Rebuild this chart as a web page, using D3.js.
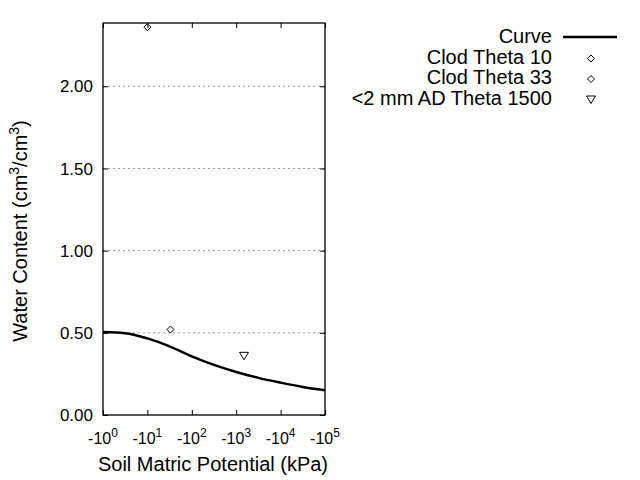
<!DOCTYPE html>
<html><head><meta charset="utf-8">
<script src="https://cdn.jsdelivr.net/npm/d3@7"></script>
<style>body{margin:0;background:#fff}svg{display:block}text{font-family:"Liberation Sans",Arial,sans-serif;fill:#000}</style>
</head><body><svg id="c" width="640" height="480"></svg>
<script>
const curvePotential = [1, 3.16, 10, 31.6, 100, 316, 1000, 3162, 10000, 31623, 100000];
const curveTheta     = [0.505, 0.498, 0.466, 0.418, 0.357, 0.305, 0.262, 0.226, 0.197, 0.171, 0.151];
const pointSeries = ["Clod Theta 10", "Clod Theta 33", "<2 mm AD Theta 1500"];
const pointPotential = [10, 33, 1500];
const pointTheta = [2.36, 0.52, 0.36];
const pointShape = ["diamond", "diamond", "triangle"];
const xTickExp = [0, 1, 2, 3, 4, 5];
const yTicks = [0, 0.5, 1.0, 1.5, 2.0];

const svg = d3.select("#c");
const L = 103, R = 325, T = 23, B = 415;
const x = d3.scaleLog().domain([1, 1e5]).range([L, R]);
const y = d3.scaleLinear().domain([0, 2.385]).range([B, T]);

// grid
svg.append("g").selectAll("line").data(yTicks.filter(d => d > 0)).join("line")
  .attr("x1", L).attr("x2", R).attr("y1", d => y(d)).attr("y2", d => y(d))
  .attr("stroke", "#999").attr("stroke-dasharray", "2,3").attr("stroke-width", 1);

// axes (ticks only)
const yAx = svg.append("g").attr("transform", `translate(${L},0)`)
  .call(d3.axisLeft(y).tickValues(yTicks).tickFormat("").tickSizeInner(-5).tickSizeOuter(0));
yAx.select(".domain").remove();
const yAxR = svg.append("g").attr("transform", `translate(${R},0)`)
  .call(d3.axisRight(y).tickValues(yTicks).tickFormat("").tickSizeInner(-5).tickSizeOuter(0));
yAxR.select(".domain").remove();

const xVals = xTickExp.map(e => Math.pow(10, e));
const xAx = svg.append("g").attr("transform", `translate(0,${B})`)
  .call(d3.axisBottom(x).tickValues(xVals).tickFormat("").tickSizeInner(-5).tickSizeOuter(0));
xAx.select(".domain").remove();
const xAxT = svg.append("g").attr("transform", `translate(0,${T})`)
  .call(d3.axisTop(x).tickValues(xVals).tickFormat("").tickSizeInner(-5).tickSizeOuter(0));
xAxT.select(".domain").remove();
svg.selectAll(".tick line").attr("stroke", "#000");

// y tick labels
svg.append("g").selectAll("text").data(yTicks).join("text")
  .attr("x", 93).attr("y", d => y(d)).attr("dy", "0.36em").attr("text-anchor", "end")
  .attr("font-size", 17).style("font-size", "17px")
  .text(d => d3.format(".2f")(d));

// x tick labels with superscripts
const xl = svg.append("g").selectAll("text").data(xTickExp).join("text")
  .attr("x", d => x(Math.pow(10, d))).attr("y", 444).attr("text-anchor", "middle")
  .style("font-size", "16px");
xl.append("tspan").text("-10");
xl.append("tspan").text(d => d).attr("dy", -7).style("font-size", "12px");

// frame
svg.append("rect").attr("x", L).attr("y", T).attr("width", R - L).attr("height", B - T)
  .attr("fill", "none").attr("stroke", "#000").attr("stroke-width", 1.3);

// axis titles
svg.append("text").attr("x", 213).attr("y", 471).attr("text-anchor", "middle")
  .style("font-size", "20px").text("Soil Matric Potential (kPa)");
const yt = svg.append("text").attr("transform", "translate(27,231) rotate(-90)").attr("text-anchor", "middle")
  .style("font-size", "20px");
yt.append("tspan").text("Water Content (cm");
yt.append("tspan").text("3").attr("dy", -8).style("font-size", "14px");
yt.append("tspan").text("/cm").attr("dy", 8);
yt.append("tspan").text("3").attr("dy", -8).style("font-size", "14px");
yt.append("tspan").text(")").attr("dy", 8);

// curve
const cdata = curvePotential.map((p, i) => [p, curveTheta[i]]);
svg.append("path").datum(cdata)
  .attr("d", d3.line().x(d => x(d[0])).y(d => y(d[1])).curve(d3.curveMonotoneX))
  .attr("fill", "none").attr("stroke", "#000").attr("stroke-width", 2.5);

function marker(g, shape, cx, cy) {
  if (shape === "diamond") {
    g.append("path").attr("d", `M${cx},${cy-3.5}L${cx+3.5},${cy}L${cx},${cy+3.5}L${cx-3.5},${cy}Z`)
      .attr("fill", "none").attr("stroke", "#000").attr("stroke-width", 1);
  } else {
    g.append("path").attr("d", `M${cx-4.5},${cy-3.5}L${cx+4.5},${cy-3.5}L${cx},${cy+4}Z`)
      .attr("fill", "none").attr("stroke", "#000").attr("stroke-width", 1);
  }
}
const pg = svg.append("g");
pointPotential.forEach((p, i) => marker(pg, pointShape[i], x(p), y(pointTheta[i])));

// legend
const legendLabels = ["Curve"].concat(pointSeries);
const lg = svg.append("g");
legendLabels.forEach((t, i) => {
  const yy = 43 + i * 20.5;
  lg.append("text").attr("x", 552).attr("y", yy).attr("text-anchor", "end").style("font-size", "20px").text(t);
  if (i === 0) {
    lg.append("line").attr("x1", 563).attr("x2", 617).attr("y1", yy - 6).attr("y2", yy - 6)
      .attr("stroke", "#000").attr("stroke-width", 2.5);
  } else {
    marker(lg, pointShape[i - 1], 591, yy - 5);
  }
});
</script></body></html>
